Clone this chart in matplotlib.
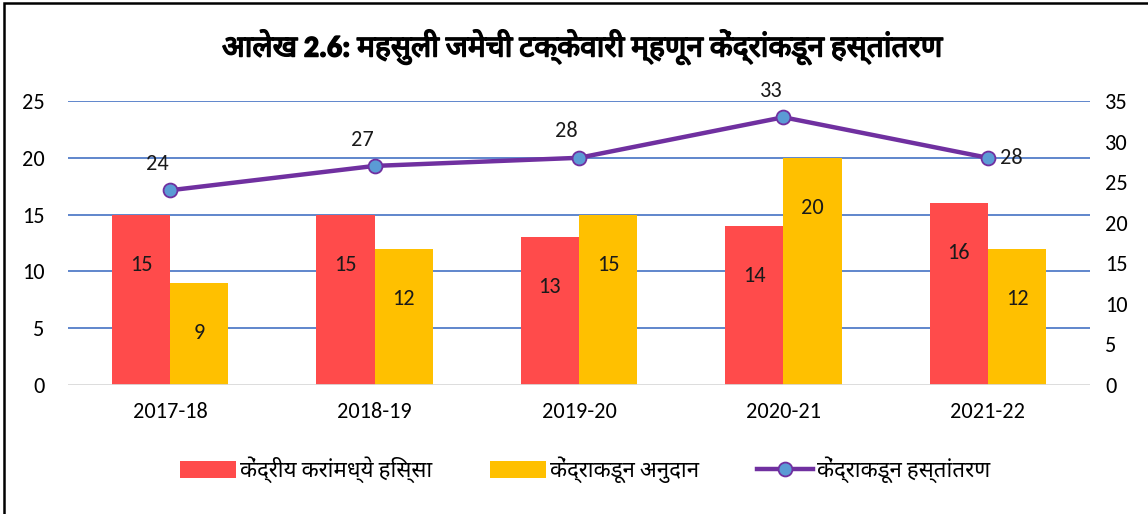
import matplotlib
matplotlib.use("Agg")
import matplotlib.pyplot as plt
from matplotlib import font_manager
from matplotlib.patches import Rectangle
import matplotlib.patheffects as pe
import numpy as np

# ---- data ----
categories = ["2017-18", "2018-19", "2019-20", "2020-21", "2021-22"]
central_tax_share = [15, 15, 13, 14, 16]
central_grants = [9, 12, 15, 20, 12]
central_transfers = [24, 27, 28, 33, 28]

title = "आलेख 2.6: महसुली जमेची टक्केवारी म्हणून केंद्रांकडून हस्तांतरण"
legend_labels = ["केंद्रीय करांमध्ये हिस्सा", "केंद्राकडून अनुदान", "केंद्राकडून हस्तांतरण"]

# ---- fonts ----
available = {f.name for f in font_manager.fontManager.ttflist}
wanted = ["Carlito", "Noto Sans Devanagari", "Lohit Devanagari", "Mangal",
          "Nirmala UI", "FreeSans", "Lato", "Noto Sans", "DejaVu Sans"]
fam = [f for f in wanted if f in available] or ["DejaVu Sans"]
plt.rcParams["font.family"] = fam

RED = "#FF4B4B"
YEL = "#FFC000"
PUR = "#7030A0"
MBLUE = "#5B9BD5"
GRID = "#4472C4"
TXT = "#000000"
FS = 16

fig = plt.figure(figsize=(11.48, 5.14), dpi=100)
ax = fig.add_axes([68/1148, 1-385/514, (1090-68)/1148, (385-101)/514])
ax2 = ax.twinx()

x = np.arange(len(categories))
w = 0.285
b1 = ax.bar(x - w/2, central_tax_share, w, color=RED, zorder=2, label=legend_labels[0])
b2 = ax.bar(x + w/2, central_grants, w, color=YEL, zorder=2, label=legend_labels[1])

ax.set_xlim(-0.5, len(categories) - 0.5)
ax.set_ylim(0, 25)
ax.set_yticks(range(0, 26, 5))
ax.set_xticks(x)
ax.set_xticklabels(categories)
for yv in range(5, 26, 5):
    ax.axhline(yv, color=GRID, lw=1.2, zorder=1)
ax.axhline(0, color="#D9D9D9", lw=2, zorder=3)

for s in ax.spines.values():
    s.set_visible(False)
for s in ax2.spines.values():
    s.set_visible(False)
ax.tick_params(axis="both", length=0, labelsize=FS, colors=TXT)
ax.tick_params(axis="y", pad=17)
ax.tick_params(axis="x", pad=12)

for rects, vals in ((b1, central_tax_share), (b2, central_grants)):
    for r, v in zip(rects, vals):
        ax.annotate(str(v), (r.get_x() + r.get_width()/2, v), xytext=(0, -36),
                    textcoords="offset points", ha="center", va="center",
                    fontsize=FS, color="#1a1a1a", zorder=5)

ax2.set_ylim(0, 35)
ax2.set_yticks(range(0, 36, 5))
ax2.tick_params(axis="y", length=0, labelsize=FS, colors=TXT, pad=11)
ln, = ax2.plot(x, central_transfers, color=PUR, lw=3.2, marker="o", markersize=10,
               markerfacecolor=MBLUE, markeredgecolor=PUR, markeredgewidth=1.3,
               zorder=4, label=legend_labels[2])
for i, v in enumerate(central_transfers):
    if i == len(central_transfers) - 1:
        off, ha = (9, 0), "left"
    else:
        off, ha = (-9, 19), "center"
    ax2.annotate(str(v), (x[i], v), xytext=off, textcoords="offset points",
                 ha=ha, va="center", fontsize=FS, color="#1a1a1a")

fig.text(0.508, 1-47/514, title, ha="center", va="center", fontsize=21.5,
         fontweight="bold", color=TXT,
         path_effects=[pe.withStroke(linewidth=1.1, foreground=TXT)])

fig.legend(handles=[b1, b2, ln], labels=legend_labels, loc="center",
           bbox_to_anchor=(0.51, 1-470/514), ncol=3, frameon=False,
           fontsize=FS, handlelength=2.5, handleheight=0.8, handletextpad=0.2,
           columnspacing=2.6)

fig.patches.append(Rectangle((4/1148, -0.02), 1.1, 1-3/514+0.02, transform=fig.transFigure,
                             fill=False, edgecolor="black", lw=1.8, zorder=10))

fig.savefig("out.png", dpi=100)
